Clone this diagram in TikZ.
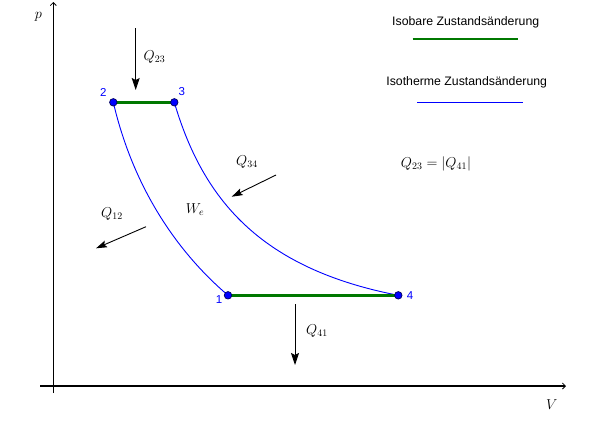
\documentclass[tikz,border=0pt]{standalone}
\usepackage{fontspec}
\newfontfamily\legendfont{Liberation Sans}
\usetikzlibrary{arrows.meta}
\definecolor{isobar}{RGB}{0,120,0}
\definecolor{isotherm}{RGB}{0,0,255}
\definecolor{dotedge}{RGB}{0,0,90}
\tikzset{
  axis/.style={line width=1.1bp,-{Straight Barb[length=3bp,width=6bp,line width=0.8bp]}},
  heat/.style={line width=0.9bp,-{Stealth[length=12bp,width=8bp,inset=2bp]}},
  heatsmall/.style={line width=0.9bp,-{Stealth[length=11bp,width=7bp,inset=2bp]}},
  isob/.style={isobar,line width=2.4bp},
  isot/.style={isotherm,line width=0.9bp},
  pdot/.style={circle,fill=isotherm,draw=dotedge,line width=0.7bp,minimum size=7.5bp,inner sep=0pt},
  plabel/.style={text=isotherm,font=\legendfont\fontsize{11.5bp}{13bp}\selectfont,inner sep=0pt},
  mlabel/.style={font=\fontsize{14.4pt}{17pt}\selectfont,inner sep=0pt},
  legtext/.style={font=\legendfont\fontsize{12.3bp}{14bp}\selectfont,inner sep=0pt}
}
\begin{document}
\begin{tikzpicture}[x=1bp,y=-1bp]
\useasboundingbox (0,0) rectangle (595,427);
% axes
\coordinate (yb) at (53.3,393);
\coordinate (yt) at (53.3,2);
\coordinate (xl) at (40,386);
\coordinate (xr) at (566,386);
\draw[axis] (yb) -- (yt);
\draw[axis] (xl) -- (xr);
\node[mlabel] (plab) at (38.3,16.7) {$p$};
\node[mlabel] (vlab) at (551.7,405) {$V$};
% state points
\coordinate (c1) at (228,295.3);
\coordinate (c2) at (113.3,102.3);
\coordinate (c3) at (174.3,102.3);
\coordinate (c4) at (398.3,295.3);
% isotherms
\draw[isot] (c2) .. controls (134.3,192.3) and (181,255.3) .. (c1);
\draw[isot] (c3) .. controls (202.3,197.3) and (258.3,268.3) .. (c4);
% isobars
\draw[isob] (c2) -- (c3);
\draw[isob] (c1) -- (c4);
% dots
\node[pdot] (P1) at (c1) {};
\node[pdot] (P2) at (c2) {};
\node[pdot] (P3) at (c3) {};
\node[pdot] (P4) at (c4) {};
\node[plabel] (L1) at (219,300) {1};
\node[plabel] (L2) at (103.3,92.7) {2};
\node[plabel] (L3) at (181.7,91.7) {3};
\node[plabel] (L4) at (410,295.7) {4};
% heat arrows
\coordinate (q23s) at (135.7,28);
\coordinate (q23e) at (135.7,90);
\draw[heat] (q23s) -- (q23e);
\node[mlabel] (Q23) at (154.5,56.7) {$Q_{23}$};
\coordinate (q41s) at (295,304);
\coordinate (q41e) at (295,365);
\draw[heat] (q41s) -- (q41e);
\node[mlabel] (Q41) at (317,331) {$Q_{41}$};
\coordinate (q34s) at (276,175);
\coordinate (q34e) at (231.7,196.7);
\draw[heatsmall] (q34s) -- (q34e);
\node[mlabel] (Q34) at (247,162.3) {$Q_{34}$};
\coordinate (q12s) at (146,226.7);
\coordinate (q12e) at (96,248.3);
\draw[heatsmall] (q12s) -- (q12e);
\node[mlabel] (Q12) at (112,214.3) {$Q_{12}$};
\node[mlabel] (We) at (195,210) {$W_e$};
\node[mlabel] (eq) at (436,164) {$Q_{23}=|Q_{41}|$};
% legend
\node[legtext] (leg1) at (465.7,22.3) {Isobare Zustandsänderung};
\coordinate (l1a) at (412.7,39);
\coordinate (l1b) at (518.3,39);
\draw[isob] (l1a) -- (l1b);
\node[legtext] (leg2) at (466.7,82) {Isotherme Zustandsänderung};
\coordinate (l2a) at (417.3,102);
\coordinate (l2b) at (522.7,102);
\draw[isotherm,line width=1bp] (l2a) -- (l2b);
\end{tikzpicture}
\end{document}
